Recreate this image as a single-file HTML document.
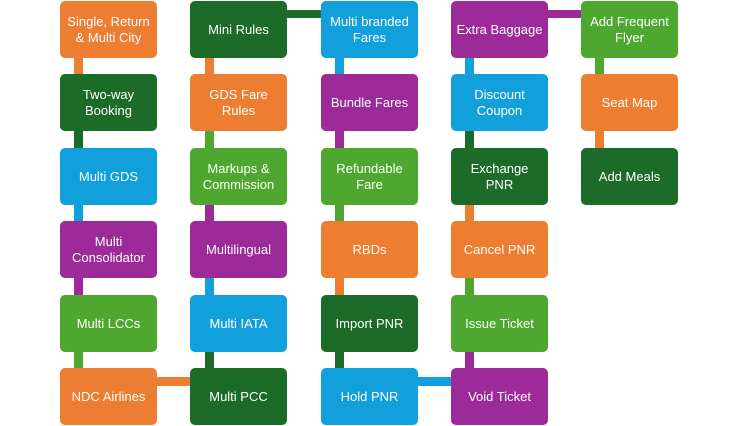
<!DOCTYPE html>
<html><head><style>
body{margin:0;width:736px;height:426px;background:#fff;position:relative;overflow:hidden;font-family:"Liberation Sans",sans-serif}
.b{position:absolute;width:97px;height:57px;border-radius:5px;color:#fff;font-size:13px;line-height:16px;display:flex;align-items:center;justify-content:center;text-align:center}
.c{position:absolute}
.o{background:#ED7D31}.d{background:#1C6B28}.u{background:#11A0DB}.p{background:#9C2A98}.g{background:#4EA72E}
</style></head><body>
<!-- vertical connectors -->
<div class="c o" style="left:74px;top:58px;width:9px;height:16px"></div>
<div class="c d" style="left:74px;top:131px;width:9px;height:17px"></div>
<div class="c u" style="left:74px;top:205px;width:9px;height:16px"></div>
<div class="c p" style="left:74px;top:278px;width:9px;height:17px"></div>
<div class="c g" style="left:74px;top:352px;width:9px;height:16px"></div>

<div class="c o" style="left:205px;top:58px;width:9px;height:16px"></div>
<div class="c g" style="left:205px;top:131px;width:9px;height:17px"></div>
<div class="c p" style="left:205px;top:205px;width:9px;height:16px"></div>
<div class="c u" style="left:205px;top:278px;width:9px;height:17px"></div>
<div class="c d" style="left:205px;top:352px;width:9px;height:16px"></div>

<div class="c u" style="left:335px;top:58px;width:9px;height:16px"></div>
<div class="c p" style="left:335px;top:131px;width:9px;height:17px"></div>
<div class="c g" style="left:335px;top:205px;width:9px;height:16px"></div>
<div class="c o" style="left:335px;top:278px;width:9px;height:17px"></div>
<div class="c d" style="left:335px;top:352px;width:9px;height:16px"></div>

<div class="c u" style="left:465px;top:58px;width:9px;height:16px"></div>
<div class="c d" style="left:465px;top:131px;width:9px;height:17px"></div>
<div class="c o" style="left:465px;top:205px;width:9px;height:16px"></div>
<div class="c g" style="left:465px;top:278px;width:9px;height:17px"></div>
<div class="c p" style="left:465px;top:352px;width:9px;height:16px"></div>

<div class="c g" style="left:595px;top:58px;width:9px;height:16px"></div>
<div class="c o" style="left:595px;top:131px;width:9px;height:17px"></div>
<!-- horizontal connectors -->
<div class="c d" style="left:287px;top:10px;width:34px;height:8px"></div>
<div class="c p" style="left:548px;top:10px;width:33px;height:8px"></div>
<div class="c o" style="left:156px;top:377px;width:35px;height:9px"></div>
<div class="c u" style="left:417px;top:377px;width:34px;height:9px"></div>

<div class="b o" style="left:60px;top:1px">Single, Return<br>&amp; Multi City</div>
<div class="b d" style="left:60px;top:74px">Two-way<br>Booking</div>
<div class="b u" style="left:60px;top:148px">Multi GDS</div>
<div class="b p" style="left:60px;top:221px">Multi<br>Consolidator</div>
<div class="b g" style="left:60px;top:295px">Multi LCCs</div>
<div class="b o" style="left:60px;top:368px">NDC Airlines</div>

<div class="b d" style="left:190px;top:1px">Mini Rules</div>
<div class="b o" style="left:190px;top:74px">GDS Fare<br>Rules</div>
<div class="b g" style="left:190px;top:148px">Markups &amp;<br>Commission</div>
<div class="b p" style="left:190px;top:221px">Multilingual</div>
<div class="b u" style="left:190px;top:295px">Multi IATA</div>
<div class="b d" style="left:190px;top:368px">Multi PCC</div>

<div class="b u" style="left:321px;top:1px">Multi branded<br>Fares</div>
<div class="b p" style="left:321px;top:74px">Bundle Fares</div>
<div class="b g" style="left:321px;top:148px">Refundable<br>Fare</div>
<div class="b o" style="left:321px;top:221px">RBDs</div>
<div class="b d" style="left:321px;top:295px">Import PNR</div>
<div class="b u" style="left:321px;top:368px">Hold PNR</div>

<div class="b p" style="left:451px;top:1px">Extra Baggage</div>
<div class="b u" style="left:451px;top:74px">Discount<br>Coupon</div>
<div class="b d" style="left:451px;top:148px">Exchange<br>PNR</div>
<div class="b o" style="left:451px;top:221px">Cancel PNR</div>
<div class="b g" style="left:451px;top:295px">Issue Ticket</div>
<div class="b p" style="left:451px;top:368px">Void Ticket</div>

<div class="b g" style="left:581px;top:1px">Add Frequent<br>Flyer</div>
<div class="b o" style="left:581px;top:74px">Seat Map</div>
<div class="b d" style="left:581px;top:148px">Add Meals</div>
</body></html>
